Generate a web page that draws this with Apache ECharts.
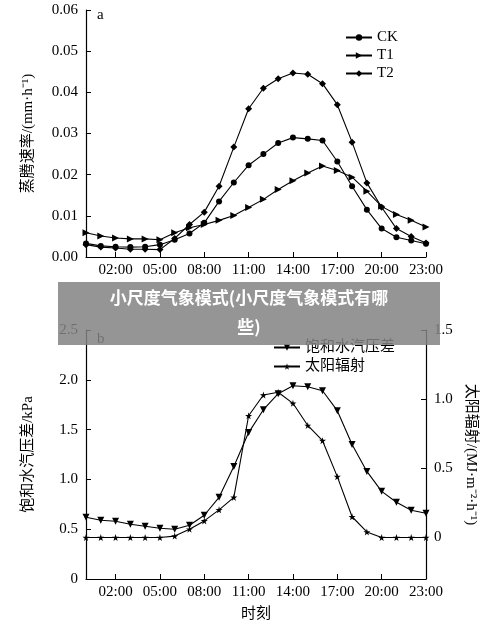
<!DOCTYPE html><html><head><meta charset="utf-8"><script src="https://cdn.jsdelivr.net/npm/echarts@6/dist/echarts.min.js"></script>
<style>body{margin:0;background:#fff}#c{width:500px;height:628px}</style></head><body><div id="c"></div><script>
const hours=['00:00','01:00','02:00','03:00','04:00','05:00','06:00','07:00','08:00','09:00','10:00','11:00','12:00','13:00','14:00','15:00','16:00','17:00','18:00','19:00','20:00','21:00','22:00','23:00'];
const CK=[0.0033,0.0027,0.0025,0.0024,0.0025,0.0030,0.0042,0.0057,0.0083,0.0135,0.0181,0.0223,0.0250,0.0277,0.0290,0.0287,0.0283,0.0232,0.0172,0.0115,0.0069,0.0048,0.0040,0.0032];
const T1=[0.0059,0.0051,0.0046,0.0044,0.0044,0.0042,0.0059,0.0071,0.0079,0.0089,0.0101,0.0120,0.0140,0.0164,0.0185,0.0204,0.0221,0.0210,0.0194,0.0160,0.0123,0.0103,0.0089,0.0073];
const T2=[0.0030,0.0024,0.0022,0.0019,0.0019,0.0018,0.0045,0.0079,0.0109,0.0172,0.0267,0.0360,0.0410,0.0433,0.0447,0.0444,0.0421,0.0370,0.0279,0.0180,0.0121,0.0069,0.0050,0.0034];
const VPD=[0.62,0.59,0.58,0.55,0.53,0.51,0.50,0.54,0.64,0.82,1.13,1.47,1.70,1.86,1.94,1.93,1.89,1.69,1.35,1.08,0.88,0.77,0.69,0.66];
const RAD=[0,0,0,0,0,0,0.01,0.06,0.12,0.20,0.29,0.88,1.03,1.05,0.97,0.81,0.70,0.44,0.15,0.04,0,0,0,0];
const F='"Liberation Serif","Noto Sans CJK SC",serif';
const star='path://M50,0L61,35L98,35L68,57L79,91L50,70L21,91L32,57L2,35L39,35Z';
const showIdx=(i)=>(i-2)%3===0;
function xa(g){return {type:'category',gridIndex:g,data:hours,boundaryGap:false,
 axisLine:{lineStyle:{color:'#000',width:1.2}},axisTick:{inside:true,length:5,interval:showIdx,lineStyle:{color:'#000'}},
 axisLabel:{interval:showIdx,color:'#000',fontFamily:F,fontSize:15,margin:6},
 name:g===1?'时刻':'',nameLocation:'middle',nameGap:28,nameTextStyle:{color:'#000',fontFamily:F,fontSize:15}};}
const ax={axisLine:{show:true,lineStyle:{color:'#000',width:1.2}},axisTick:{show:true,inside:true,length:5,lineStyle:{color:'#000'}},splitLine:{show:false},axisLabel:{color:'#000',fontFamily:F,fontSize:15}};
const ls={color:'#000',width:1.1};
function s(name,data,sym,size,rot,xi,yi){return {name,type:'line',data,symbol:sym,symbolSize:size,symbolRotate:rot,xAxisIndex:xi,yAxisIndex:yi,lineStyle:ls,itemStyle:{color:'#000'},showSymbol:true};}
const chart=echarts.init(document.getElementById('c'));
chart.setOption({animation:false,
grid:[{left:86,right:74,top:10,height:247},{left:86,right:74,top:330,height:249}],
xAxis:[xa(0),xa(1)],
yAxis:[Object.assign({},ax,{gridIndex:0,min:0,max:0.06,interval:0.01,axisLabel:Object.assign({},ax.axisLabel,{formatter:v=>v.toFixed(2)}),name:'蒸腾速率/(mm·h⁻¹)',nameLocation:'middle',nameGap:50,nameTextStyle:{color:'#000',fontFamily:F,fontSize:15}}),
 Object.assign({},ax,{gridIndex:1,min:0,max:2.5,interval:0.5,axisLabel:Object.assign({},ax.axisLabel,{formatter:v=>v===0?'0':v.toFixed(1)}),name:'饱和水汽压差/kPa',nameLocation:'middle',nameGap:50,nameTextStyle:{color:'#000',fontFamily:F,fontSize:15}}),
 Object.assign({},ax,{gridIndex:1,position:'right',min:-0.3,max:1.5,axisTick:{show:true,inside:true,length:5,lineStyle:{color:'#000'},customValues:[0,0.5,1,1.5]},axisLabel:Object.assign({},ax.axisLabel,{customValues:[0,0.5,1,1.5],formatter:v=>v===0?'0':(+v).toFixed(1)}),name:'太阳辐射/(MJ·m⁻²·h⁻¹)',nameLocation:'middle',nameGap:36,nameRotate:-90,nameTextStyle:{color:'#000',fontFamily:F,fontSize:15}})],
legend:[{data:['CK','T1','T2'],orient:'vertical',left:340,top:25,itemGap:3,itemWidth:26,itemHeight:8,textStyle:{fontFamily:F,fontSize:15,color:'#000'}},
 {data:['饱和水汽压差','太阳辐射'],orient:'vertical',left:268,top:335,itemGap:4,itemWidth:26,itemHeight:8,textStyle:{fontFamily:F,fontSize:15,color:'#000'}}],
series:[s('CK',CK,'circle',6,0,0,0),s('T1',T1,'triangle',7,-90,0,0),s('T2',T2,'diamond',7,0,0,0),
 s('饱和水汽压差',VPD,'triangle',7,180,1,1),s('太阳辐射',RAD,star,7,0,1,2)],
graphic:[{type:'text',left:97,top:8,style:{text:'a',font:'15px '+F,fill:'#000'}},
 {type:'text',left:97,top:332,style:{text:'b',font:'15px '+F,fill:'#000'}},
 {type:'rect',shape:{x:58,y:282,width:382,height:63},style:{fill:'rgba(130,130,130,0.85)'},z:100},
 {type:'text',x:249,y:298,style:{text:'小尺度气象模式(小尺度气象模式有哪',font:'bold 17px "Noto Sans CJK SC"',fill:'#fff',align:'center',verticalAlign:'middle'},z:101},
 {type:'text',x:249,y:327,style:{text:'些)',font:'bold 17px "Noto Sans CJK SC"',fill:'#fff',align:'center',verticalAlign:'middle'},z:101}]
});
</script></body></html>
